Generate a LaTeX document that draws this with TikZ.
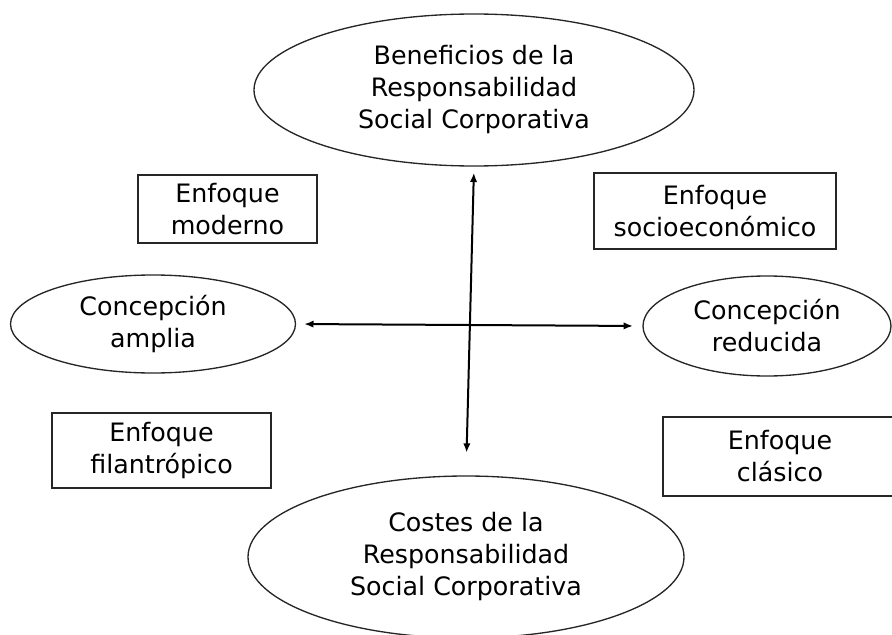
\documentclass[tikz,border=0pt]{standalone}
\usepackage{fontspec}
\setmainfont{DejaVu Sans}
\usetikzlibrary{shapes.geometric,arrows.meta}

\tikzset{
  oval/.style={draw=black!85,line width=1pt,ellipse,inner sep=0pt,align=center},
  boxnode/.style={draw=black!85,line width=1pt,rectangle,inner sep=0pt,align=center},
  axisarrow/.style={line width=1.5pt,{Latex[length=7pt,width=5.5pt]}-{Latex[length=7pt,width=5.5pt]}}
}

\begin{document}
\begin{tikzpicture}[x=0.75pt,y=-0.75pt,font=\fontsize{19}{24}\selectfont]
  \useasboundingbox (0,0) rectangle (892,635);

  % ellipses
  \node[oval,minimum width=330pt,minimum height=114pt] (benef) at (474,90)
    {Beneficios de la\\Responsabilidad\\Social Corporativa};
  \node[oval,minimum width=327pt,minimum height=121.5pt] (costes) at (466,557)
    {Costes de la\\Responsabilidad\\Social Corporativa};
  \node[oval,minimum width=213.75pt,minimum height=73.5pt] (amplia) at (153,324)
    {Concepción\\amplia};
  \node[oval,minimum width=186pt,minimum height=75pt] (reducida) at (767,326)
    {Concepción\\reducida};

  % boxes
  \node[boxnode,minimum width=134.25pt,minimum height=51pt] (moderno) at (227.5,209)
    {Enfoque\\moderno};
  \node[boxnode,minimum width=181.5pt,minimum height=57pt] (socio) at (715,211)
    {Enfoque\\socioeconómico};
  \node[boxnode,minimum width=164.25pt,minimum height=56.25pt] (filan) at (161.5,450.5)
    {Enfoque\\filantrópico};
  \node[boxnode,minimum width=175.5pt,minimum height=59.25pt] (clasico) at (780,456.5)
    {Enfoque\\clásico};

  % axes
  \draw[axisarrow,shorten <=4.5pt,shorten >=17pt] (benef.south) -- (costes.north);
  \draw[axisarrow,shorten <=6pt,shorten >=7pt] (amplia.east) -- (reducida.west);
\end{tikzpicture}
\end{document}
